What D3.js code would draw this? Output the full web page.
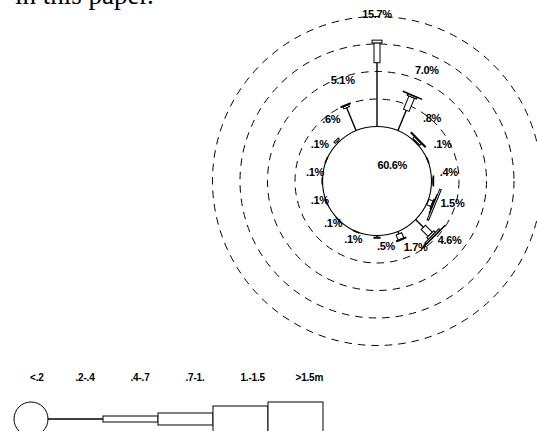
<!DOCTYPE html>
<html><head><meta charset="utf-8">
<script src="https://cdn.jsdelivr.net/npm/d3@7"></script>
<style>body{margin:0;background:#fff}svg{display:block}</style>
</head><body>
<script>
// ---- data ----
const directions = ["N","NNE","NE","ENE","E","ESE","SE","SSE","S","SSW","SW","WSW","W","WNW","NW","NNW"];
const totalLabels = ["15.7%","7.0%",".8%",".1%",".4%","1.5%","4.6%","1.7%",".5%",".1%",".1%",".1%",".1%",".1%",".6%","5.1%"];
const calmLabel = "60.6%";
const classLabels = ["<.2",".2-.4",".4-.7",".7-1.","1.-1.5",">1.5m"];
// percent per height class (.2-.4, .4-.7, .7-1., 1.-1.5, >1.5) for each direction
const cls1 = [11.6,4.0,0.0,0.0,0.1,0.1,2.0,0.5,0.3,0.0,0.0,0.0,0.0,0.0,0.3,4.5];
const cls2 = [3.6,2.6,0.2,0.1,0.2,0.8,1.8,1.0,0.2,0.1,0.1,0.1,0.1,0.1,0.3,0.4];
const cls3 = [0.5,0.3,0.4,0.0,0.1,0.2,0.4,0.2,0.0,0.0,0.0,0.0,0.0,0.0,0.0,0.2];
const cls4 = [0.0,0.1,0.2,0.0,0.0,0.1,0.3,0.0,0.0,0.0,0.0,0.0,0.0,0.0,0.0,0.0];
const cls5 = [0.0,0.0,0.0,0.0,0.0,0.3,0.1,0.0,0.0,0.0,0.0,0.0,0.0,0.0,0.0,0.0];
const ringValues = [5,10,15,20];

const W = 537, H = 431;
const svg = d3.select("body").append("svg").attr("width",W).attr("height",H);

// top-left cut-off text
svg.append("text").attr("x",15).attr("y",4)
  .attr("font-family","'Liberation Serif', 'Times New Roman', serif")
  .attr("font-size",27).attr("fill","#000").text("in this paper.");

const cx = 377, cy = 181, R0 = 54.5;
const r = d3.scaleLinear().domain([0,20]).range([R0, R0 + 20*5.5]);
const ang = d3.scaleBand().domain(directions).range([0,360]).paddingInner(0).align(0);
const widthRose = [0,6,10,20,33];
const font = "'Liberation Sans', Arial, sans-serif";

const g = svg.append("g").attr("transform",`translate(${cx},${cy})`);

// dashed rings
g.selectAll("circle.ring").data(ringValues).join("circle")
  .attr("class","ring").attr("r",d=>r(d)).attr("fill","none")
  .attr("stroke","#000").attr("stroke-width",1).attr("stroke-dasharray","7.5,6");

// calm circle
g.append("circle").attr("r",R0).attr("fill","#fff").attr("stroke","#000").attr("stroke-width",1.1);

const classes = [cls1,cls2,cls3,cls4,cls5];
directions.forEach((dir,i)=>{
  const a = ang(dir);
  const sg = g.append("g").attr("transform",`rotate(${a})`);
  let cum = 0;
  classes.forEach((arr,c)=>{
    const v = arr[i];
    if (v<=0) return;
    const r1 = r(cum), r2 = r(cum+v);
    if (c===0) {
      sg.append("line").attr("x1",0).attr("x2",0).attr("y1",-r1).attr("y2",-r2)
        .attr("stroke","#000").attr("stroke-width",1.4);
    } else {
      const w = widthRose[c];
      sg.append("rect").attr("x",-w/2).attr("y",-r2).attr("width",w).attr("height",Math.max(r2-r1,0.6))
        .attr("fill","#fff").attr("stroke","#000").attr("stroke-width",1);
    }
    cum += v;
  });
  // label
  const rEnd = r(cum);
  const rad = a*Math.PI/180;
  const s = Math.sin(rad), co = Math.cos(rad);
  let lx, anchor;
  if (co > 0.99) { lx = 0; anchor = "middle"; }
  else if (s < -0.01) { lx = (rEnd+7)*s; anchor = "middle"; }
  else { lx = (rEnd+6)*s; anchor = "start"; }
  const ly = -(rEnd+17)*co - 9;
  g.append("text").attr("x",lx).attr("y",ly)
    .attr("text-anchor",anchor).attr("dominant-baseline","central")
    .attr("font-family",font).attr("font-weight","bold")
    .attr("font-size",11).attr("letter-spacing",-0.3).text(totalLabels[i]);
});

g.append("text").attr("x",R0*0.28).attr("y",-16).attr("text-anchor","middle")
  .attr("dominant-baseline","central")
  .attr("font-family",font).attr("font-weight","bold")
  .attr("font-size",11).attr("letter-spacing",-0.3).text(calmLabel);

// legend
const legY = 419;
const legX = d3.scaleLinear().domain([0,5]).range([48,323]);
const widthLeg = [0,0,6,12,26,34];
const lg = svg.append("g");
lg.append("circle").attr("cx",31).attr("cy",legY).attr("r",17)
  .attr("fill","#fff").attr("stroke","#000");
lg.append("line").attr("x1",legX(0)).attr("x2",legX(1)).attr("y1",legY).attr("y2",legY)
  .attr("stroke","#000").attr("stroke-width",1.3);
[2,3,4,5].forEach(k=>{
  lg.append("rect").attr("x",legX(k-1)).attr("width",legX(k)-legX(k-1))
    .attr("y",legY-widthLeg[k]/2).attr("height",widthLeg[k])
    .attr("fill","#fff").attr("stroke","#000");
});
const labX = [30, (legX(0)+legX(1))/2, (legX(1)+legX(2))/2, (legX(2)+legX(3))/2, (legX(3)+legX(4))/2, (legX(4)+legX(5))/2];
classLabels.forEach((t,k)=>{
  lg.append("text").attr("x",labX[k]).attr("y",377).attr("dominant-baseline","central")
    .attr("font-family",font).attr("font-weight","bold")
    .attr("font-size",10).attr("letter-spacing",-0.2).text(t);
});
</script>
</body></html>
